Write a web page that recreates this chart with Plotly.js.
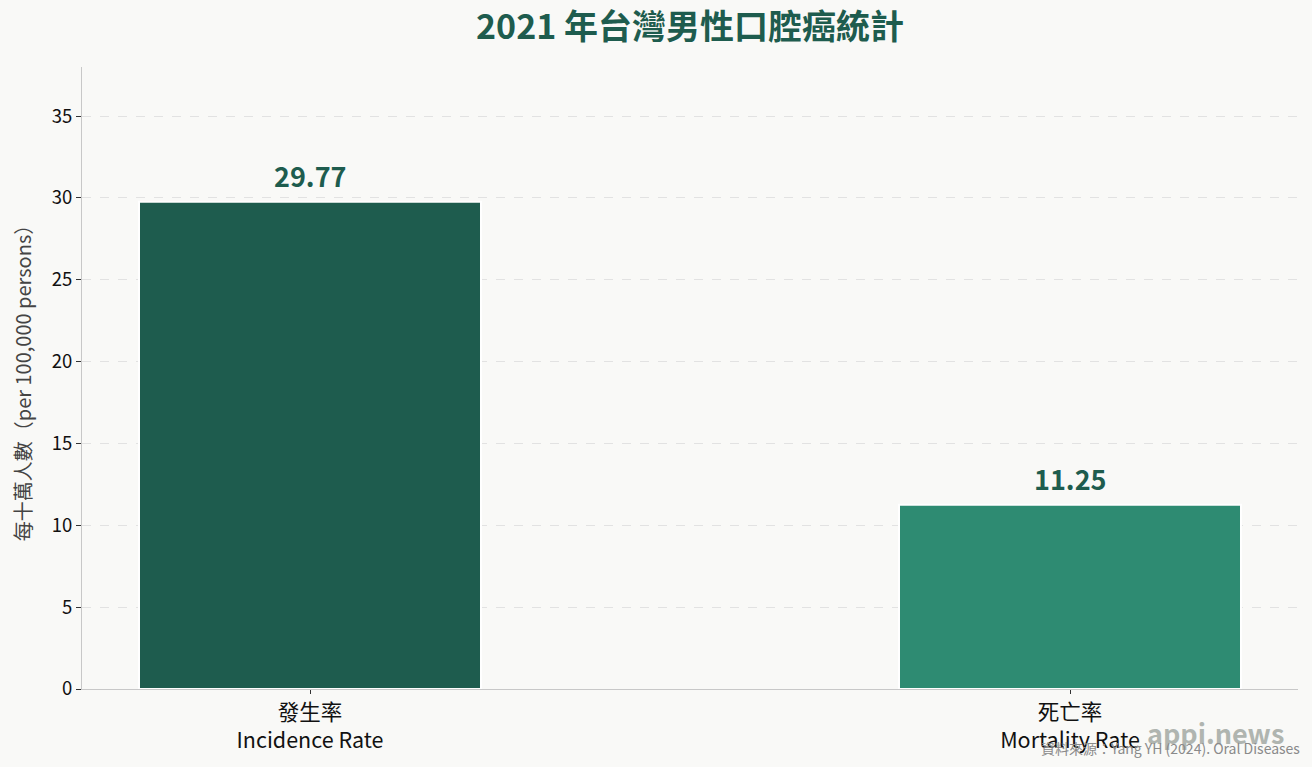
<!DOCTYPE html>
<html>
<head>
<meta charset="utf-8">
<script src="https://cdn.plot.ly/plotly-3.0.1.min.js"></script>
<style>
  html, body { margin: 0; padding: 0; background: #f9f9f7; }
  #chart { width: 1312px; height: 767px; }
</style>
</head>
<body>
<div id="chart"></div>
<script>
// ── Data ──────────────────────────────────────────────────────────────────────
const categories = ['發生率<br>Incidence Rate', '死亡率<br>Mortality Rate'];
const values     = [29.77, 11.25];
const barColors  = ['#1e5c4e', '#2e8b72'];
const yTicks     = [0, 5, 10, 15, 20, 25, 30, 35];

const FONT = "'Noto Sans CJK TC', 'Noto Sans', sans-serif";
const xPos = categories.map((_, i) => i);

const trace = {
  type: 'bar',
  x: xPos,
  y: values,
  width: 0.45,
  marker: { color: barColors, line: { color: '#ffffff', width: 2 } },
  hoverinfo: 'skip',
};

// Value labels above each bar
const valueLabels = values.map((v, i) => ({
  x: xPos[i], y: v, xref: 'x', yref: 'y',
  text: '<b>' + v.toFixed(2) + '</b>', showarrow: false,
  yanchor: 'bottom', yshift: 5,
  font: { family: FONT, size: 27, color: '#1e5c4e' },
}));

const layout = {
  width: 1312, height: 767,
  margin: { l: 82, r: 14, t: 67, b: 78 },
  paper_bgcolor: '#f9f9f7',
  plot_bgcolor: '#f9f9f7',
  showlegend: false,
  font: { family: FONT, color: '#111' },
  title: {
    text: '<b>2021 年台灣男性口腔癌統計</b>',
    x: 0.5, xref: 'paper', xanchor: 'center',
    y: 0.965, yref: 'container', yanchor: 'middle',
    font: { family: FONT, size: 34, color: '#1e5c4e' },
  },
  xaxis: {
    range: [-0.3, 1.3],
    tickvals: xPos,
    ticktext: categories,
    ticks: 'outside', ticklen: 4, tickcolor: '#333',
    tickfont: { family: FONT, size: 21.5, color: '#111' },
    showgrid: false, zeroline: false,
    showline: true, linecolor: '#c8c8c8', linewidth: 1,
    fixedrange: true,
  },
  yaxis: {
    range: [0, 38],
    tickvals: yTicks,
    ticks: 'outside', ticklen: 5, tickcolor: '#333',
    tickfont: { family: FONT, size: 18.5, color: '#111' },
    showgrid: true, gridcolor: '#e2e2e2', griddash: 'dash', gridwidth: 1,
    zeroline: false,
    showline: true, linecolor: '#c8c8c8', linewidth: 1,
    title: {
      text: '每十萬人數（per 100,000 persons）',
      font: { family: FONT, size: 20, color: '#444' },
      standoff: 14,
    },
    fixedrange: true,
  },
  annotations: [
    ...valueLabels,
    {
      xref: 'paper', yref: 'paper', x: 1.0, y: -0.07,
      xanchor: 'right', yanchor: 'middle', xshift: -12,
      text: '<b>appi.news</b>', showarrow: false,
      font: { family: FONT, size: 27, color: '#b0b5b0' },
    },
    {
      xref: 'paper', yref: 'paper', x: 1.0, y: -0.095,
      xanchor: 'right', yanchor: 'middle', xshift: 4,
      text: '資料來源：Yang YH (2024). Oral Diseases', showarrow: false,
      font: { family: FONT, size: 14, color: '#8a8a8a' },
    },
  ],
};

Plotly.newPlot('chart', [trace], layout, { displayModeBar: false, staticPlot: true });
</script>
</body>
</html>
